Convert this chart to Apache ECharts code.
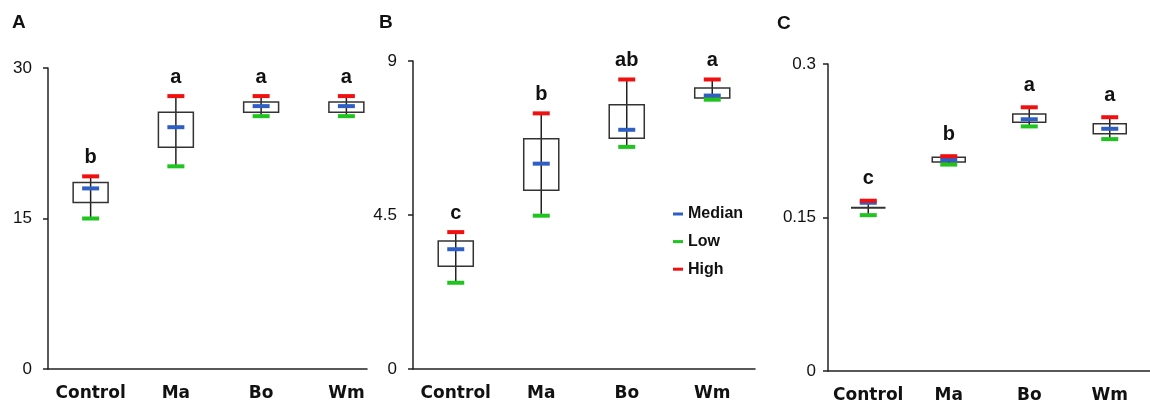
<!DOCTYPE html>
<html lang="en">
<head>
    <meta charset="UTF-8">
    <title>Box plots A B C</title>
    <script type="text/javascript" src="https://cdn.jsdelivr.net/npm/echarts@6.0.0/dist/echarts.min.js"></script>
    <style>
        html, body { margin: 0; padding: 0; background: #fff; }
        #chart { width: 1150px; height: 404px; }
    </style>
</head>
<body>
<div id="chart"></div>
<script type="text/javascript">
    // categories shared by the three panels
    var categories = ['Control', 'Ma', 'Bo', 'Wm'];

    // panel A
    var lowA = [15.0, 20.2, 25.2, 25.2];
    var q1A = [16.6, 22.1, 25.6, 25.6];
    var medA = [18.0, 24.1, 26.2, 26.2];
    var q3A = [18.6, 25.6, 26.6, 26.6];
    var highA = [19.2, 27.2, 27.2, 27.2];
    var lettersA = ['b', 'a', 'a', 'a'];
    var ticksA = [0, 15, 30];

    // panel B
    var lowB = [2.52, 4.48, 6.49, 7.87];
    var q1B = [3.0, 5.22, 6.74, 7.92];
    var medB = [3.5, 6.0, 6.99, 7.99];
    var q3B = [3.74, 6.73, 7.72, 8.21];
    var highB = [4.0, 7.47, 8.46, 8.46];
    var lettersB = ['c', 'b', 'ab', 'a'];
    var ticksB = [0, 4.5, 9];

    // panel C
    var lowC = [0.1523, 0.2017, 0.239, 0.2266];
    var q1C = [0.1593, 0.2043, 0.243, 0.2318];
    var medC = [0.1644, 0.2063, 0.246, 0.2367];
    var q3C = [0.1597, 0.2089, 0.2512, 0.2417];
    var highC = [0.1664, 0.2099, 0.2577, 0.248];
    var lettersC = ['c', 'b', 'a', 'a'];
    var ticksC = [0, 0.15, 0.3];

    var legendNames = ['Median', 'Low', 'High'];
    var colMedian = '#2f5fc4';
    var colLow = '#1fc41f';
    var colHigh = '#f01010';

    var chart = echarts.init(document.getElementById('chart'));

    //box + whisker drawn through the axis scales
    function renderBox(params, api) {
        var x = api.value(0);
        var low = api.coord([x, api.value(1)]);
        var q1 = api.coord([x, api.value(2)]);
        var q3 = api.coord([x, api.value(3)]);
        var high = api.coord([x, api.value(4)]);
        var w = api.size([1, 0])[0] * 0.41;
        return {
            type: 'group',
            children: [
                {
                    type: 'line',
                    shape: {x1: low[0], y1: low[1], x2: high[0], y2: high[1]},
                    style: {stroke: '#222', lineWidth: 1.5}
                },
                {
                    type: 'rect',
                    shape: {x: q3[0] - w / 2, y: q3[1], width: w, height: q1[1] - q3[1]},
                    style: {fill: 'none', stroke: '#333', lineWidth: 1.5}
                }
            ]
        };
    }

    function boxData(low, q1, q3, high) {
        var out = [];
        for (var i = 0; i < low.length; i++) {
            out.push([i, low[i], q1[i], q3[i], high[i]]);
        }
        return out;
    }

    function xAxisFor(idx) {
        return {
            type: 'category',
            gridIndex: idx,
            data: categories,
            axisLine: {lineStyle: {color: '#222', width: 1.5}},
            axisTick: {length: 4, lineStyle: {color: '#222', width: 1.5}},
            axisLabel: {
                interval: 0,
                margin: 16,
                color: '#111',
                fontFamily: 'DejaVu Sans',
                fontWeight: 'bold',
                fontSize: 17
            }
        };
    }

    function yAxisFor(idx, ticks, margin) {
        var ax = {
            type: 'value',
            gridIndex: idx,
            min: ticks[0],
            max: ticks[2],
            interval: ticks[1],
            splitLine: {show: false},
            axisLine: {show: true, lineStyle: {color: '#222', width: 1.5}},
            axisTick: {show: true, length: 5, lineStyle: {color: '#222', width: 1.5}},
            axisLabel: {
                margin: margin,
                color: '#111',
                fontFamily: 'Liberation Sans',
                fontSize: 17
            }
        };
        return ax;
    }

    function capSeries(name, idx, values, color, letters, dist) {
        var s = {
            name: name,
            type: 'scatter',
            xAxisIndex: idx,
            yAxisIndex: idx,
            symbol: 'rect',
            symbolSize: [17, 4],
            itemStyle: {color: color, opacity: 1},
            data: values,
            z: 3
        };
        if (letters) {
            s.label = {
                show: true,
                position: 'top',
                distance: dist,
                color: '#111',
                fontFamily: 'Liberation Sans',
                fontWeight: 'bold',
                fontSize: 20,
                formatter: function (p) {
                    return letters[p.dataIndex];
                }
            };
        }
        return s;
    }

    function panelSeries(idx, low, q1, med, q3, high, letters, dist) {
        return [
            {
                type: 'custom',
                xAxisIndex: idx,
                yAxisIndex: idx,
                renderItem: renderBox,
                encode: {x: 0, y: [1, 2, 3, 4]},
                data: boxData(low, q1, q3, high),
                z: 2
            },
            capSeries('Median', idx, med, colMedian),
            capSeries('Low', idx, low, colLow),
            capSeries('High', idx, high, colHigh, letters, dist)
        ];
    }

    var yB = yAxisFor(1, ticksB, 16);
    // panel B sits over the end of panel A's axis
    yB.z = 5;
    yB.axisLabel.backgroundColor = '#fff';
    yB.axisLabel.padding = [0, 0, 0, 20];

    var titleStyle = {fontFamily: 'Liberation Sans', fontWeight: 'bold', fontSize: 19, color: '#111'};

    var option = {
        animation: false,
        title: [
            {text: 'A', left: 12, top: 13, padding: 0, textStyle: titleStyle},
            {text: 'B', left: 379, top: 13, padding: 0, textStyle: titleStyle},
            {text: 'C', left: 777, top: 14, padding: 0, textStyle: titleStyle}
        ],
        legend: {
            data: [
                {name: legendNames[0], icon: 'rect'},
                {name: legendNames[1], icon: 'rect'},
                {name: legendNames[2], icon: 'rect'}
            ],
            orient: 'vertical',
            left: 673,
            top: 206,
            padding: 0,
            itemWidth: 10,
            itemHeight: 3,
            itemGap: 11.6,
            textStyle: {
                fontFamily: 'Liberation Sans',
                fontWeight: 'bold',
                fontSize: 16,
                lineHeight: 16,
                color: '#111'
            }
        },
        grid: [
            {left: 48, width: 341, top: 68, bottom: 35},
            {left: 413, width: 342, top: 61, bottom: 35},
            {left: 828, width: 327, top: 64, bottom: 32}
        ],
        xAxis: [xAxisFor(0), xAxisFor(1), xAxisFor(2)],
        yAxis: [yAxisFor(0, ticksA, 16), yB, yAxisFor(2, ticksC, 12)],
        series: []
            .concat(panelSeries(0, lowA, q1A, medA, q3A, highA, lettersA, 7))
            .concat(panelSeries(1, lowB, q1B, medB, q3B, highB, lettersB, 7))
            .concat(panelSeries(2, lowC, q1C, medC, q3C, highC, lettersC, 10))
    };
    chart.setOption(option);
</script>
</body>
</html>
